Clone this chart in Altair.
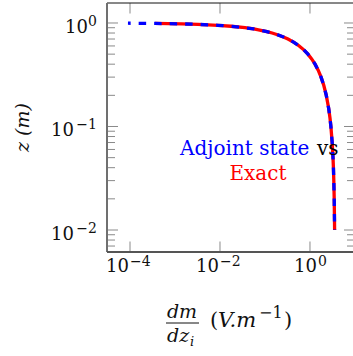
import altair as alt
import pandas as pd

# Depth z (m) and gradient dm/dz_i (V.m^-1) for both solutions
depth_adjoint = [0.995, 0.99, 0.98, 0.97, 0.95, 0.93, 0.9, 0.875, 0.85, 0.825, 0.8,
                 0.775, 0.75, 0.725, 0.7, 0.65, 0.6, 0.55, 0.5, 0.45, 0.4, 0.35,
                 0.3, 0.25, 0.2, 0.15, 0.12, 0.1, 0.07, 0.05, 0.04, 0.03, 0.02, 0.01]
grad_adjoint = [9.0e-5, 3.6e-4, 1.44e-3, 3.24e-3, 9.0e-3, 0.0176, 0.036, 0.0563, 0.081,
                0.110, 0.144, 0.182, 0.225, 0.272, 0.324, 0.441, 0.576, 0.729, 0.90,
                1.089, 1.296, 1.521, 1.764, 2.025, 2.304, 2.601, 2.788, 2.916, 3.114,
                3.249, 3.318, 3.387, 3.457, 3.528]

depth_exact = depth_adjoint[1:]
grad_exact = grad_adjoint[1:]

x_major = [1e-4, 1e-2, 1.0]
x_exp = ["\u22124", "\u22122", "0"]
y_major = [1.0, 0.1, 0.01]
y_exp = ["0", "\u22121", "\u22122"]
y_minor = [0.9, 0.8, 0.7, 0.6, 0.5, 0.4, 0.3, 0.2,
           0.09, 0.08, 0.07, 0.06, 0.05, 0.04, 0.03, 0.02,
           0.009, 0.008, 0.007]

W, H = 246, 249
SERIF = "DejaVu Serif"
INK = "#111111"
TICK = "#8a8a8a"

xs = alt.Scale(type="log", domain=[3.08e-5, 9.04], nice=False)
ys = alt.Scale(type="log", domain=[6.13e-3, 1.56], nice=False)

adj = pd.DataFrame({"z": depth_adjoint, "g": grad_adjoint, "i": range(len(depth_adjoint))})
exa = pd.DataFrame({"z": depth_exact, "g": grad_exact, "i": range(len(depth_exact))})
xt = pd.DataFrame({"v": x_major, "e": x_exp})
yt = pd.DataFrame({"v": y_major, "e": y_exp})
ym = pd.DataFrame({"v": y_minor})
one = pd.DataFrame({"a": [0]})

X = lambda: alt.X("g:Q", scale=xs, axis=None)
Y = lambda: alt.Y("z:Q", scale=ys, axis=None)

exact_line = alt.Chart(exa).mark_line(color="#ff0000", strokeWidth=3.3, clip=True).encode(
    x=X(), y=Y(), order="i:Q")
adjoint_line = alt.Chart(adj).mark_line(
    color="#0000ff", strokeWidth=3.3, strokeDash=[7.5, 8], strokeDashOffset=4.8,
    strokeCap="butt", clip=True).encode(x=X(), y=Y(), order="i:Q")

# inward ticks on all four sides
xv = alt.X("v:Q", scale=xs, axis=None)
yv = alt.Y("v:Q", scale=ys, axis=None)
tick = dict(color=TICK, strokeWidth=1)
x_bot = alt.Chart(xt).mark_rule(**tick).encode(x=xv, y=alt.value(H), y2=alt.value(H - 10.5))
x_top = alt.Chart(xt).mark_rule(**tick).encode(x=xv, y=alt.value(0), y2=alt.value(10.5))
y_left = alt.Chart(yt).mark_rule(**tick).encode(y=yv, x=alt.value(0), x2=alt.value(11))
y_right = alt.Chart(yt).mark_rule(**tick).encode(y=yv, x=alt.value(W), x2=alt.value(W - 9))
ym_left = alt.Chart(ym).mark_rule(**tick).encode(y=yv, x=alt.value(0), x2=alt.value(8))
ym_right = alt.Chart(ym).mark_rule(**tick).encode(y=yv, x=alt.value(W), x2=alt.value(W - 6))

# frame
f_top = alt.Chart(one).mark_rule(color=INK, strokeWidth=1).encode(
    x=alt.value(0), x2=alt.value(W), y=alt.value(0))
f_left = alt.Chart(one).mark_rule(color="#707070", strokeWidth=2).encode(
    x=alt.value(0), y=alt.value(0), y2=alt.value(H))
f_bot = alt.Chart(one).mark_rule(color="#555555", strokeWidth=2).encode(
    x=alt.value(0), x2=alt.value(W), y=alt.value(H))

# tick labels: base "10" plus a raised exponent
neg = alt.datum.v < 0.5
zero = alt.datum.v >= 0.5
base_txt = dict(text="10", font=SERIF, fontSize=18, color=INK, baseline="alphabetic")
exp_txt = dict(font=SERIF, fontSize=14, color=INK, baseline="alphabetic")

xb_neg = alt.Chart(xt).transform_filter(neg).mark_text(align="right", dx=-1, **base_txt).encode(
    x=xv, y=alt.value(H + 20))
xb_zero = alt.Chart(xt).transform_filter(zero).mark_text(align="right", dx=7, **base_txt).encode(
    x=xv, y=alt.value(H + 20))
xe_neg = alt.Chart(xt).transform_filter(neg).mark_text(align="left", dx=0, **exp_txt).encode(
    x=xv, y=alt.value(H + 14), text="e:N")
xe_zero = alt.Chart(xt).transform_filter(zero).mark_text(align="left", dx=8, **exp_txt).encode(
    x=xv, y=alt.value(H + 14), text="e:N")

yb_neg = alt.Chart(yt).transform_filter(neg).mark_text(align="right", dy=10, **base_txt).encode(
    y=yv, x=alt.value(-33))
yb_zero = alt.Chart(yt).transform_filter(zero).mark_text(align="right", dy=10, **base_txt).encode(
    y=yv, x=alt.value(-19))
ye = alt.Chart(yt).mark_text(align="right", dy=3, **exp_txt).encode(
    y=yv, x=alt.value(-10), text="e:N")


def label(txt, x, y, size=20, color=INK, align="left", style="normal", angle=0,
          baseline="alphabetic"):
    return alt.Chart(one).mark_text(
        text=txt, font=SERIF, fontSize=size, color=color, align=align,
        fontStyle=style, angle=angle, baseline=baseline).encode(
        x=alt.value(x), y=alt.value(y))


y_title = label("z (m)", -84, 124.5, size=19, style="italic", align="center", angle=270,
                baseline="middle")

# x title: fraction dm / dz_i followed by the unit
dm = label("dm", 75, 315, size=19, align="center", style="italic")
frac = alt.Chart(one).mark_rule(color=INK, strokeWidth=1).encode(
    x=alt.value(59), x2=alt.value(92), y=alt.value(320))
dz = label("dz", 60, 339, size=19, style="italic")
dz_i = label("i", 83, 343, size=13, style="italic")
u_open = label("(", 103, 324, size=21)
u_body = label("V.m", 111, 324, size=21, style="italic")
u_exp = label("\u22121", 152, 315, size=16)
u_close = label(")", 177, 324, size=21)

ann1 = label("Adjoint state", 73, 152, color="#0000ff")
ann2 = label("vs", 210, 152, color="#000000")
ann3 = label("Exact", 151, 177, color="#ff0000", align="center")

chart = alt.layer(
    exact_line, adjoint_line,
    x_bot, x_top, y_left, y_right, ym_left, ym_right,
    f_top, f_left, f_bot,
    xb_neg, xb_zero, xe_neg, xe_zero, yb_neg, yb_zero, ye,
    y_title, dm, frac, dz, dz_i, u_open, u_body, u_exp, u_close,
    ann1, ann2, ann3,
).properties(
    width=W, height=H,
    autosize=alt.AutoSizeParams(type="none"),
    padding={"left": 107, "top": 3, "right": 0, "bottom": 104},
).configure_view(stroke=None)

chart.save("out.html", embed_options={"renderer": "svg", "actions": False})
